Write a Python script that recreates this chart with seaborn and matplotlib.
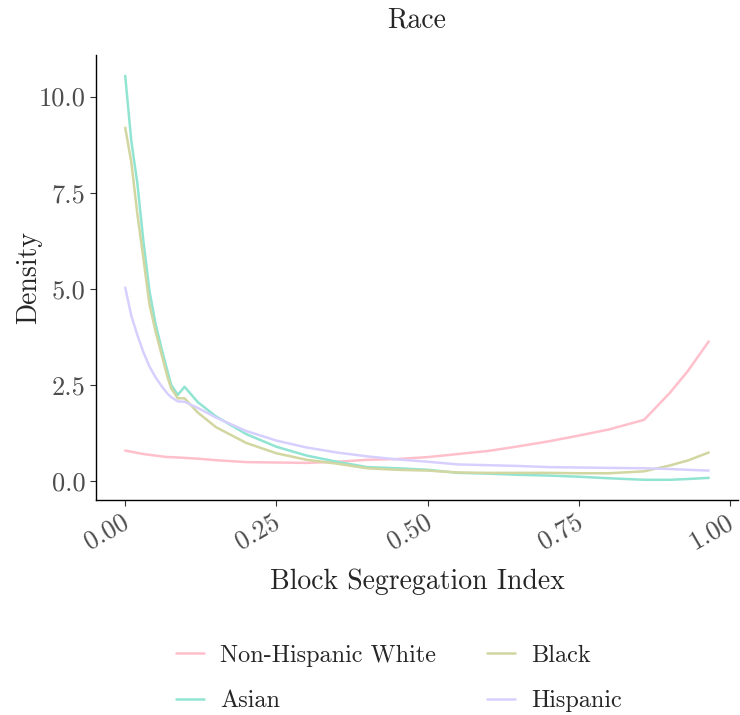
import numpy as np
import pandas as pd
import matplotlib
matplotlib.use("Agg")
import matplotlib.pyplot as plt
import matplotlib.transforms as mtransforms
import seaborn as sns

# density values
seg_index = [0.0, 0.01, 0.02, 0.03, 0.04, 0.05, 0.06, 0.07, 0.076, 0.087, 0.098,
             0.12, 0.15, 0.2, 0.25, 0.3, 0.35, 0.4, 0.45, 0.5, 0.55, 0.6, 0.65,
             0.7, 0.75, 0.8, 0.858, 0.9, 0.93, 0.965]

white = [0.79, 0.76, 0.73, 0.70, 0.68, 0.66, 0.64, 0.62, 0.62, 0.61, 0.60,
         0.58, 0.54, 0.49, 0.48, 0.47, 0.50, 0.55, 0.57, 0.62, 0.70, 0.78, 0.90,
         1.03, 1.18, 1.34, 1.59, 2.28, 2.85, 3.63]
asian = [10.54, 8.85, 7.75, 6.25, 4.95, 4.10, 3.45, 2.85, 2.50, 2.24, 2.45,
         2.05, 1.68, 1.22, 0.89, 0.66, 0.50, 0.36, 0.33, 0.29, 0.21, 0.19, 0.16,
         0.14, 0.11, 0.07, 0.03, 0.03, 0.05, 0.08]
black = [9.19, 8.30, 6.95, 5.80, 4.60, 3.90, 3.30, 2.70, 2.41, 2.15, 2.15,
         1.78, 1.40, 0.99, 0.72, 0.55, 0.45, 0.33, 0.29, 0.27, 0.22, 0.21, 0.21,
         0.21, 0.20, 0.20, 0.25, 0.40, 0.53, 0.74]
hispanic = [5.03, 4.30, 3.80, 3.35, 2.98, 2.70, 2.47, 2.27, 2.18, 2.07, 2.06,
            1.90, 1.65, 1.30, 1.05, 0.87, 0.74, 0.64, 0.56, 0.50, 0.43, 0.41, 0.39,
            0.36, 0.35, 0.34, 0.33, 0.31, 0.29, 0.27]

groups = ["Non-Hispanic White", "Asian", "Black", "Hispanic"]
colors = ["#FFC0CB", "#91E4D2", "#D2D6A0", "#D7D0FF"]

df = pd.concat([
    pd.DataFrame({"x": seg_index, "density": vals, "race": name})
    for name, vals in zip(groups, [white, asian, black, hispanic])
])

sns.set_style("white")
plt.rcParams["font.family"] = ["cmr10", "DejaVu Serif"]
plt.rcParams["axes.formatter.use_mathtext"] = True
plt.rcParams["mathtext.fontset"] = "cm"

fig = plt.figure(figsize=(7.4, 7.15), dpi=100)
ax = fig.add_axes([0.130, 0.301, 0.867, 0.622])

sns.lineplot(data=df, x="x", y="density", hue="race", hue_order=groups,
             palette=dict(zip(groups, colors)), linewidth=1.8, ax=ax,
             legend=True)

ax.set_xlim(-0.048, 1.013)
ax.set_ylim(-0.49, 11.08)
ax.set_xticks([0, 0.25, 0.5, 0.75, 1.0])
ax.set_xticklabels(["0.00", "0.25", "0.50", "0.75", "1.00"])
ax.set_yticks([0, 2.5, 5, 7.5, 10])
ax.set_yticklabels(["0.0", "2.5", "5.0", "7.5", "10.0"])
ax.tick_params(axis="both", direction="out", length=4, width=0.8,
               bottom=True, left=True,
               color="#333333", labelcolor="#4D4D4D", labelsize=19)
# rotated x labels, nudged a bit left so the last one stays inside
shift = mtransforms.ScaledTranslation(-4 / 100, 0, fig.dpi_scale_trans)
for lab in ax.get_xticklabels():
    lab.set_rotation(30)
    lab.set_ha("right")
    lab.set_rotation_mode("anchor")
    lab.set_transform(lab.get_transform() + shift)

for side in ["top", "right"]:
    ax.spines[side].set_visible(False)
for side in ["left", "bottom"]:
    ax.spines[side].set_color("black")
    ax.spines[side].set_linewidth(1.0)

ax.set_xlabel("Block Segregation Index", fontsize=20, labelpad=10)
ax.set_ylabel("Density", fontsize=20, labelpad=-2)
ax.set_title("Race", fontsize=20, pad=20)

handles, labels = ax.get_legend_handles_labels()
ax.get_legend().remove()
fig.legend(handles, labels, loc="center", bbox_to_anchor=(0.539, 0.051),
           ncol=2, frameon=False, fontsize=17.5, columnspacing=2.1,
           handlelength=1.15, handletextpad=0.65, labelspacing=0.95)

fig.savefig("out.png", dpi=100)
